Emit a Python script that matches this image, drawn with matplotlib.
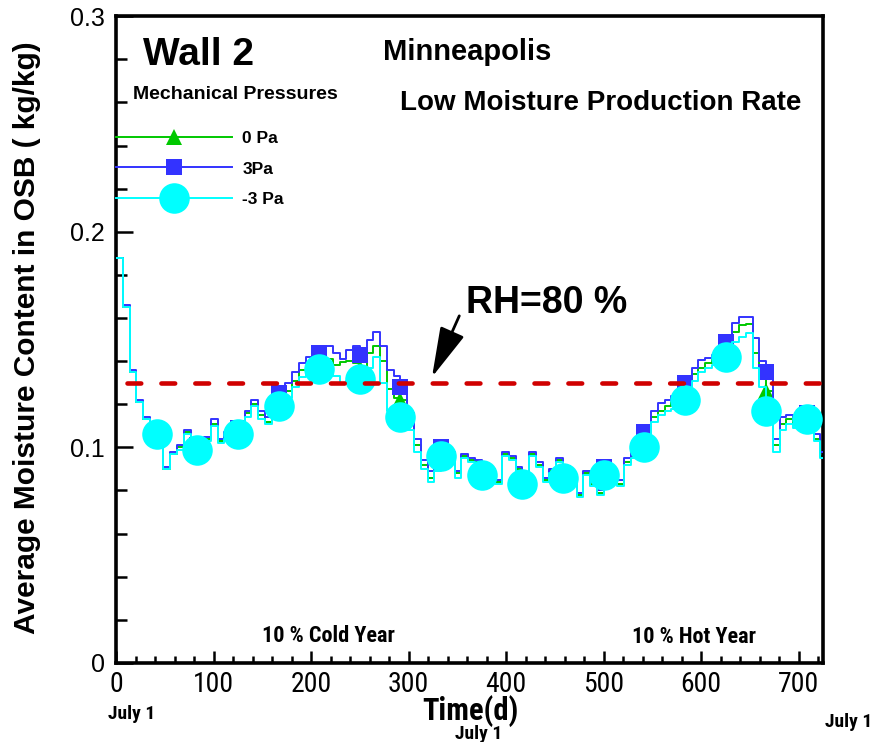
import matplotlib
matplotlib.use("Agg")
import matplotlib.pyplot as plt
import numpy as np
from matplotlib.ticker import MultipleLocator, FuncFormatter

# OSB moisture content (kg/kg), one sample every 1000/6 hours (markers every 1000 h)
mc_0pa = [
    0.188, 0.165, 0.135, 0.121, 0.113, 0.108, 0.106,
    0.090, 0.097, 0.100, 0.107, 0.101, 0.100, 0.104,
    0.111, 0.103, 0.105, 0.109, 0.107, 0.116, 0.120,
    0.115, 0.112, 0.118, 0.121, 0.126, 0.131, 0.136,
    0.137, 0.1395, 0.140, 0.141, 0.138, 0.1395, 0.140,
    0.139, 0.137, 0.1437, 0.147, 0.140, 0.127, 0.123,
    0.122, 0.112, 0.101, 0.092, 0.086, 0.091, 0.098,
    0.096, 0.088, 0.096, 0.094, 0.093, 0.088, 0.089,
    0.084, 0.097, 0.095, 0.090, 0.084, 0.097, 0.092,
    0.085, 0.089, 0.094, 0.087, 0.086, 0.078, 0.088,
    0.083, 0.079, 0.089, 0.085, 0.083, 0.093, 0.096,
    0.099, 0.103, 0.114, 0.117, 0.119, 0.121, 0.122,
    0.126, 0.134, 0.137, 0.139, 0.141, 0.143, 0.145,
    0.1535, 0.1567, 0.157, 0.144, 0.134, 0.126, 0.101,
    0.111, 0.113, 0.111, 0.114, 0.114, 0.104, 0.096,
    0.089,
]
mc_3pa = [
    0.188, 0.166, 0.136, 0.122, 0.114, 0.109, 0.107,
    0.091, 0.098, 0.101, 0.108, 0.102, 0.101, 0.105,
    0.113, 0.104, 0.107, 0.111, 0.109, 0.117, 0.122,
    0.117, 0.114, 0.120, 0.125, 0.130, 0.135, 0.139,
    0.142, 0.144, 0.144, 0.147, 0.144, 0.141, 0.145,
    0.147, 0.143, 0.150, 0.1535, 0.147, 0.136, 0.133,
    0.128, 0.116, 0.104, 0.094, 0.089, 0.093, 0.100,
    0.098, 0.089, 0.097, 0.095, 0.094, 0.089, 0.090,
    0.085, 0.098, 0.096, 0.091, 0.085, 0.098, 0.093,
    0.086, 0.090, 0.095, 0.088, 0.087, 0.079, 0.089,
    0.084, 0.080, 0.091, 0.087, 0.085, 0.095, 0.098,
    0.101, 0.107, 0.117, 0.1205, 0.122, 0.124, 0.126,
    0.130, 0.137, 0.1405, 0.1415, 0.143, 0.146, 0.149,
    0.1576, 0.1605, 0.1605, 0.1507, 0.140, 0.135, 0.104,
    0.114, 0.115, 0.113, 0.116, 0.116, 0.106, 0.098,
    0.090,
]
mc_m3pa = [
    0.188, 0.165, 0.135, 0.121, 0.113, 0.108, 0.106,
    0.090, 0.097, 0.099, 0.106, 0.100, 0.099, 0.103,
    0.110, 0.102, 0.104, 0.108, 0.106, 0.114, 0.119,
    0.113, 0.111, 0.116, 0.119, 0.123, 0.128, 0.1325,
    0.134, 0.136, 0.1365, 0.135, 0.133, 0.130, 0.131,
    0.131, 0.1315, 0.137, 0.142, 0.130, 0.117, 0.113,
    0.114, 0.108, 0.098, 0.090, 0.084, 0.089, 0.096,
    0.094, 0.086, 0.095, 0.093, 0.092, 0.087, 0.088,
    0.083, 0.096, 0.094, 0.089, 0.083, 0.096, 0.091,
    0.084, 0.088, 0.093, 0.086, 0.085, 0.077, 0.087,
    0.082, 0.078, 0.087, 0.084, 0.082, 0.092, 0.095,
    0.097, 0.100, 0.112, 0.115, 0.117, 0.118, 0.119,
    0.122, 0.131, 0.135, 0.137, 0.138, 0.140, 0.142,
    0.149, 0.151, 0.153, 0.137, 0.128, 0.117, 0.098,
    0.108, 0.111, 0.109, 0.112, 0.113, 0.103, 0.095,
    0.088,
]
labels = ["0 Pa", "3Pa", "-3 Pa"]
rh80_mc = 0.13

days = np.arange(len(mc_0pa)) * (1000 / 24) / 6

plt.rcParams["font.family"] = ["Liberation Sans", "DejaVu Sans"]
narrow = ["Roboto Condensed", "DejaVu Sans"]

fig = plt.figure(figsize=(8.81, 7.42), dpi=100)
ax = fig.add_axes([0.1317, 0.1065, 0.8025, 0.8717])

l0, = ax.plot(days, mc_0pa, drawstyle="steps-post", color="#00c800", lw=1.4,
              marker="^", ms=12, mew=0, markevery=(6, 6), zorder=2)
l1, = ax.plot(days, mc_3pa, drawstyle="steps-post", color="#3333ff", lw=1.4,
              marker="s", ms=11, mew=0, markevery=(6, 6), zorder=3)
l2, = ax.plot(days, mc_m3pa, drawstyle="steps-post", color="#00ffff", lw=1.4,
              marker="o", ms=22, mew=0, markevery=(6, 6), zorder=4)

# RH = 80 % level
ax.axhline(rh80_mc, color="#d00000", lw=3.3, linestyle=(5, (3.0, 4.4)),
           dash_capstyle="round", zorder=5)

ax.set_xlim(0, 725)
ax.set_ylim(0, 0.3)
ax.xaxis.set_major_locator(MultipleLocator(100))
ax.xaxis.set_minor_locator(MultipleLocator(20))
ax.yaxis.set_major_locator(MultipleLocator(0.1))
ax.yaxis.set_minor_locator(MultipleLocator(0.02))
ax.yaxis.set_major_formatter(FuncFormatter(lambda v, p: f"{v:g}"))

ax.tick_params(axis="x", which="major", direction="in", length=9, width=1.8,
               pad=6, labelsize=20)
ax.tick_params(axis="x", which="minor", direction="in", length=5, width=1.8)
ax.tick_params(axis="y", which="major", direction="in", length=12, width=1.8,
               pad=8, labelsize=18)
ax.tick_params(axis="y", which="minor", direction="in", length=8, width=1.8)
for t in ax.get_xticklabels():
    t.set_family(narrow)
for s in ax.spines.values():
    s.set_linewidth(2.6)

ax.legend([l0, l1, l2], labels, loc="upper left", bbox_to_anchor=(0, 0.822),
          frameon=False, borderpad=0, borderaxespad=0, handlelength=6.7,
          handletextpad=0.58, labelspacing=0.86, numpoints=1,
          prop={"weight": "bold", "size": 12.5})

ax.text(0.038, 0.924, "Wall 2", transform=ax.transAxes, fontsize=28,
        fontweight="bold")
ax.text(0.378, 0.932, "Minneapolis", transform=ax.transAxes, fontsize=21,
        fontweight="bold")
ax.text(0.402, 0.855, "Low Moisture Production Rate", transform=ax.transAxes,
        fontsize=20, fontweight="bold")
ax.text(0.024, 0.872, "Mechanical Pressures", transform=ax.transAxes,
        fontsize=14, fontweight="bold")
ax.text(0.2065, 0.0325, "10 % Cold Year", transform=ax.transAxes, fontsize=16,
        fontweight="bold", family=narrow)
ax.text(0.730, 0.031, "10 % Hot Year", transform=ax.transAxes, fontsize=16,
        fontweight="bold", family=narrow)

ax.text(0.495, 0.541, "RH=80 %", transform=ax.transAxes, fontsize=27,
        fontweight="bold")
ax.annotate("", xy=(324, 0.1326), xytext=(352, 0.161),
            arrowprops=dict(arrowstyle="-|>,head_length=1.55,head_width=0.4",
                            color="black", lw=2, mutation_scale=20,
                            shrinkA=0, shrinkB=0))

fig.text(0.5335, 0.030, "Time(d)", ha="center", fontsize=22,
         fontweight="bold", family=narrow)
fig.text(0.1226, 0.031, "July 1", fontsize=14, fontweight="bold", family=narrow)
fig.text(0.516, 0.004, "July 1", fontsize=14, fontweight="bold", family=narrow)
fig.text(0.936, 0.020, "July 1", fontsize=14, fontweight="bold", family=narrow)
fig.text(0.031, 0.5445, "Average Moisture Content in OSB ( kg/kg)",
         rotation=90, ha="center", va="center", fontsize=21.5, fontweight="bold")

fig.savefig("out.png", dpi=100)
